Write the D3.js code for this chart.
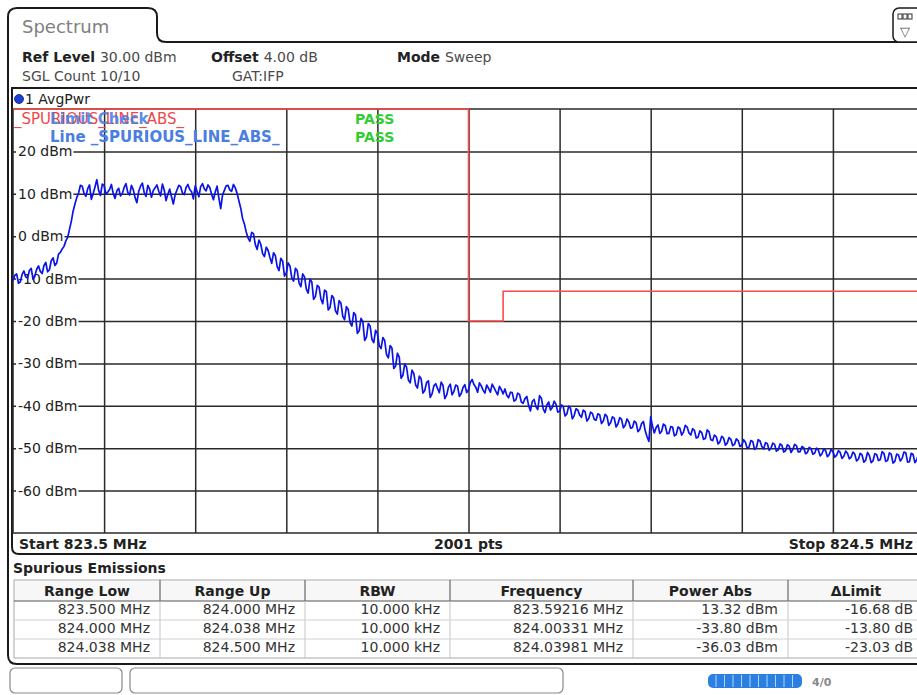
<!DOCTYPE html>
<html>
<head>
<meta charset="utf-8">
<script src="https://cdn.jsdelivr.net/npm/d3@7"></script>
<style>
  html, body { margin: 0; padding: 0; background: #fff; }
  svg { display: block; font-family: "DejaVu Sans", Verdana, sans-serif; }
</style>
</head>
<body>
<svg id="screen" width="917" height="695"></svg>
<script>
// ---- Sweep settings ----
const startFreq = 823.5;          // MHz
const stopFreq = 824.5;           // MHz
const refLevel = 30;              // dBm (top of grid)
const bottomLevel = -70;          // dBm (bottom of grid)

// ---- Grid / tick labels ----
const yTicks = [20, 10, 0, -10, -20, -30, -40, -50, -60];
const yTickLabels = ["20 dBm", "10 dBm", "0 dBm", "-10 dBm", "-20 dBm", "-30 dBm", "-40 dBm", "-50 dBm", "-60 dBm"];
const xGrid = [823.6, 823.7, 823.8, 823.9, 824.0, 824.1, 824.2, 824.3, 824.4];

// ---- AvgPwr trace (one level every 2 kHz from the start frequency) ----
const traceStep = 0.002;          // MHz
const traceLevels = [
  -10.5, -9.2, -8.9, -11.1, -10.8, -9.0, -8.2, -9.6, -9.9, -8.1, -7.6, -10.2, -9.4, -7.8, -7.0, -8.3, -8.8, -6.9, -6.2, -8.4,
  -7.9, -5.8, -5.1, -6.9, -6.3, -4.2, -3.8, -3.0, -2.4, -1.1, -0.3, 1.6, 3.5, 5.9, 7.6, 9.1, 10.2, 12.0, 11.8, 10.1,
  9.4, 11.2, 12.1, 8.7, 10.0, 11.6, 13.32, 10.8, 9.6, 12.3, 11.9, 9.9, 10.4, 11.0, 12.2, 10.1, 8.9, 10.7, 11.3, 9.5,
  10.1, 11.5, 12.4, 10.3, 9.7, 12.0, 11.0, 9.1, 7.9, 10.6, 11.8, 12.5, 10.3, 9.4, 12.0, 11.1, 9.2, 10.8, 11.4, 12.1,
  10.6, 9.5, 12.3, 10.9, 8.4, 9.9, 11.1, 9.3, 7.6, 9.8, 10.9, 12.0, 11.7, 10.2, 9.8, 11.5, 12.2, 11.0, 10.5, 8.8,
  11.9, 10.6, 9.3, 11.7, 12.4, 11.2, 10.7, 12.1, 11.5, 9.9, 8.6, 10.4, 11.8, 9.0, 6.5, 9.7, 10.8, 11.9, 12.0, 10.9,
  10.6, 12.2, 11.4, 10.1, 8.3, 6.6, 4.2, 2.9, 1.0, -0.4, -1.2, 0.9, 0.6, -2.0, -3.1, -0.9, -1.9, -4.1, -4.8, -2.6,
  -3.3, -5.0, -6.4, -3.9, -4.6, -7.2, -8.1, -5.2, -5.9, -9.4, -8.7, -6.3, -7.0, -9.8, -10.6, -7.6, -8.1, -11.0, -11.9, -8.9,
  -9.6, -12.5, -13.4, -10.1, -10.8, -14.9, -14.2, -11.6, -12.0, -14.8, -15.9, -12.7, -13.1, -17.4, -16.8, -14.0, -14.6, -17.6, -18.4, -15.2,
  -15.8, -18.9, -19.7, -16.6, -17.3, -20.4, -21.2, -18.0, -18.6, -22.9, -22.3, -19.4, -20.1, -24.6, -23.8, -20.6, -21.2, -24.3, -25.1, -22.2,
  -22.9, -25.8, -26.5, -23.9, -24.6, -27.9, -28.7, -25.8, -26.4, -31.2, -30.6, -27.6, -28.5, -33.5, -32.8, -30.1, -30.9, -33.9, -34.6, -31.6,
  -32.4, -35.1, -35.8, -33.0, -33.6, -37.0, -36.4, -34.5, -34.1, -38.0, -37.2, -35.3, -34.8, -35.9, -36.9, -34.4, -35.2, -38.3, -37.5, -35.6,
  -34.9, -37.4, -36.6, -35.1, -35.4, -37.8, -37.1, -35.7, -35.0, -36.9, -36.2, -34.5, -33.80, -35.0, -35.6, -36.8, -34.6, -35.3, -36.3, -37.0,
  -35.1, -35.9, -36.8, -34.9, -35.7, -36.6, -37.4, -35.4, -36.2, -37.2, -36.03, -37.5, -38.1, -36.8, -36.9, -38.9, -38.6, -37.0, -37.3, -39.1,
  -39.4, -38.3, -37.8, -39.9, -41.2, -39.0, -38.5, -40.2, -40.9, -37.6, -38.2, -40.7, -41.6, -39.8, -39.1, -41.0, -40.4, -38.9, -39.6, -41.5,
  -41.3, -39.8, -40.2, -42.4, -41.9, -40.1, -40.6, -43.1, -42.3, -40.7, -41.0, -42.2, -42.7, -41.0, -41.4, -43.6, -43.0, -41.5, -41.8, -43.2,
  -43.4, -41.9, -42.1, -44.2, -43.6, -42.0, -42.5, -44.6, -44.0, -42.6, -42.9, -45.0, -44.3, -42.8, -43.2, -45.2, -44.6, -43.1, -43.8, -45.3,
  -45.1, -43.6, -44.0, -46.1, -45.6, -44.2, -43.7, -45.9, -47.3, -48.4, -42.6, -44.8, -46.4, -45.1, -44.5, -46.5, -46.0, -44.3, -44.7, -46.6,
  -46.5, -44.9, -45.0, -47.1, -46.8, -45.0, -45.3, -46.9, -46.2, -44.6, -45.0, -46.4, -46.9, -45.4, -45.8, -47.6, -47.4, -45.9, -46.3, -47.9,
  -47.7, -45.7, -46.1, -48.0, -48.2, -46.9, -47.3, -49.0, -48.5, -47.2, -47.6, -49.3, -48.8, -47.5, -47.9, -49.4, -49.1, -47.8, -48.2, -49.6,
  -49.3, -48.0, -48.6, -50.1, -49.7, -48.2, -48.4, -50.3, -49.9, -48.0, -48.3, -49.6, -50.2, -48.7, -48.9, -50.5, -50.0, -48.8, -49.1, -50.7,
  -50.4, -49.0, -49.3, -50.9, -50.6, -49.2, -49.5, -51.0, -50.3, -49.1, -49.4, -50.9, -50.8, -49.6, -49.9, -51.3, -51.0, -49.8, -50.1, -51.4,
  -51.2, -50.0, -50.4, -51.8, -51.3, -50.2, -50.6, -52.0, -51.5, -50.3, -50.8, -52.1, -51.7, -50.6, -51.0, -52.4, -51.9, -50.7, -51.2, -52.5,
  -52.1, -50.9, -51.4, -53.0, -52.6, -51.2, -51.6, -53.3, -52.8, -51.0, -51.7, -53.4, -53.0, -51.3, -51.5, -52.9, -52.7, -50.8, -51.2, -53.1,
  -52.9, -51.1, -51.4, -53.5, -53.1, -51.4, -51.6, -53.0, -52.4, -50.9, -51.1, -53.3, -53.2, -51.2, -51.5, -53.4, -52.8, -51.3, -51.9, -53.0, -52.5
];

// ---- Limit line _SPURIOUS_LINE_ABS_ ----
const limitFreqs = [823.5, 824.0, 824.0, 824.038, 824.038, 824.5];
const limitLevels = [30, 30, -20, -20, -13, -13];

// ---- Spurious emissions result table ----
const tableHeaders = ["Range Low", "Range Up", "RBW", "Frequency", "Power Abs", "\u0394Limit"];
const rangeLow = ["823.500 MHz", "824.000 MHz", "824.038 MHz"];
const rangeUp = ["824.000 MHz", "824.038 MHz", "824.500 MHz"];
const rbw = ["10.000 kHz", "10.000 kHz", "10.000 kHz"];
const peakFreq = ["823.59216 MHz", "824.00331 MHz", "824.03981 MHz"];
const powerAbs = ["13.32 dBm", "-33.80 dBm", "-36.03 dBm"];
const deltaLimit = ["-16.68 dB", "-13.80 dB", "-23.03 dB"];

// ------------------------------------------------------------------
const svg = d3.select("#screen");
const W = 917, H = 695;
svg.append("rect").attr("width", W).attr("height", H).attr("fill", "#fff");

const plot = { left: 13, right: 924, top: 109, bottom: 533 };
const x = d3.scaleLinear().domain([startFreq, stopFreq]).range([plot.left, plot.right]);
const y = d3.scaleLinear().domain([refLevel, bottomLevel]).range([plot.top, plot.bottom]);

// ---- Outer window with "Spectrum" tab ----
svg.append("path")
  .attr("d", "M917,42 L166,42 Q157,42 157,33 L157,17 Q157,8 148,8 L17,8 Q8,8 8,17 L8,655 Q8,664 17,664 L917,664")
  .attr("fill", "none").attr("stroke", "#1a1a1a").attr("stroke-width", 2);
svg.append("text").attr("x", 22).attr("y", 33).attr("font-size", 18).attr("fill", "#808080").text("Spectrum");

// top-right menu icon
svg.append("rect").attr("x", 893).attr("y", 8).attr("width", 32).attr("height", 34).attr("rx", 6)
  .attr("fill", "#fff").attr("stroke", "#1a1a1a").attr("stroke-width", 1.5);
[898, 903, 908].forEach(px => svg.append("rect").attr("x", px).attr("y", 14).attr("width", 4).attr("height", 5)
  .attr("fill", "none").attr("stroke", "#333").attr("stroke-width", 1));
svg.append("text").attr("x", 905).attr("y", 36).attr("text-anchor", "middle").attr("font-size", 13).attr("fill", "#555").text("\u25BD");

// ---- Settings header ----
function labelValue(xp, yp, label, value) {
  const t = svg.append("text").attr("x", xp).attr("y", yp).attr("font-size", 14);
  if (label) t.append("tspan").attr("font-weight", "bold").attr("fill", "#222").text(label + " ");
  t.append("tspan").attr("fill", "#4a4a4a").text(value);
}
labelValue(22, 62, "Ref Level", "30.00 dBm");
labelValue(211, 62, "Offset", "4.00 dB");
labelValue(397, 62, "Mode", "Sweep");
labelValue(22, 81, null, "SGL Count 10/10");
labelValue(232, 81, null, "GAT:IFP");

// ---- Diagram frame ----
svg.append("path")
  .attr("d", "M917,88 L12,88 L12,547 Q12,554 19,554 L917,554")
  .attr("fill", "none").attr("stroke", "#1a1a1a").attr("stroke-width", 2);
svg.append("circle").attr("cx", 19).attr("cy", 99).attr("r", 4.5).attr("fill", "#1f3fd0").attr("stroke", "#0a1a80").attr("stroke-width", 0.8);
svg.append("text").attr("x", 25).attr("y", 104).attr("font-size", 14).attr("fill", "#222").text("1 AvgPwr");

// ---- Grid via axes ----
const gridG = svg.append("g");
gridG.append("g")
  .attr("transform", `translate(0,${plot.bottom})`)
  .call(d3.axisBottom(x).tickValues(xGrid).tickSize(-(plot.bottom - plot.top)).tickFormat(""))
  .call(g => g.select(".domain").remove())
  .call(g => g.selectAll(".tick line").attr("stroke", "#2a2a2a").attr("stroke-width", 1.5));
gridG.append("g")
  .attr("transform", `translate(${plot.left},0)`)
  .call(d3.axisRight(y).tickValues(yTicks).tickSize(plot.right - plot.left).tickFormat(""))
  .call(g => g.select(".domain").remove())
  .call(g => g.selectAll(".tick line").attr("stroke", "#2a2a2a").attr("stroke-width", 1.5));
// plot border
svg.append("rect").attr("x", plot.left).attr("y", plot.top)
  .attr("width", plot.right - plot.left).attr("height", plot.bottom - plot.top)
  .attr("fill", "none").attr("stroke", "#2a2a2a").attr("stroke-width", 1.5);

// level labels sit on a white patch over the grid line
const labelG = svg.append("g");
yTicks.forEach((v, i) => {
  const g = labelG.append("g");
  const t = g.append("text").attr("x", 18).attr("y", y(v) + 5).attr("font-size", 14).attr("fill", "#222").text(yTickLabels[i]);
  const bb = t.node().getBBox();
  g.insert("rect", "text").attr("x", bb.x - 2).attr("y", y(v) - 3).attr("width", bb.width + 3).attr("height", 6).attr("fill", "#fff");
});

// ---- Limit line ----
const limitPts = limitFreqs.map((f, i) => [f, limitLevels[i]]);
svg.append("path")
  .attr("d", d3.line().x(d => x(d[0])).y(d => y(d[1]))(limitPts))
  .attr("fill", "none").attr("stroke", "#ff4a4a").attr("stroke-width", 1.6);

// ---- Trace ----
const tracePts = traceLevels.map((v, i) => [startFreq + i * traceStep, v]);
svg.append("path")
  .attr("d", d3.line().x(d => x(d[0])).y(d => y(d[1]))(tracePts))
  .attr("fill", "none").attr("stroke", "#0a14e8").attr("stroke-width", 1.7).attr("stroke-linejoin", "round");

// ---- Limit check annotations ----
svg.append("text").attr("x", 14).attr("y", 124).attr("font-size", 15).attr("fill", "#f04848").text("_SPURIOUS_LINE_ABS_");
svg.append("text").attr("x", 50).attr("y", 124).attr("font-size", 15).attr("font-weight", "bold").attr("fill", "#4a7ee0").attr("fill-opacity", 0.9).text("Limit Check");
svg.append("text").attr("x", 50).attr("y", 142).attr("font-size", 15).attr("font-weight", "bold").attr("fill", "#4a7ee0").text("Line _SPURIOUS_LINE_ABS_");
svg.append("text").attr("x", 355).attr("y", 124).attr("font-size", 14).attr("font-weight", "bold").attr("fill", "#33cc33").text("PASS");
svg.append("text").attr("x", 355).attr("y", 142).attr("font-size", 14).attr("font-weight", "bold").attr("fill", "#33cc33").text("PASS");

// ---- Frequency footer ----
svg.append("text").attr("x", 19).attr("y", 549).attr("font-size", 14).attr("font-weight", "bold").attr("fill", "#222").text(`Start ${startFreq} MHz`);
svg.append("text").attr("x", (plot.left + plot.right) / 2).attr("y", 549).attr("text-anchor", "middle").attr("font-size", 14).attr("font-weight", "bold").attr("fill", "#222").text(`${2001} pts`);
svg.append("text").attr("x", 913).attr("y", 549).attr("text-anchor", "end").attr("font-size", 14).attr("font-weight", "bold").attr("fill", "#222").text(`Stop ${stopFreq} MHz`);

// ---- Spurious emissions table ----
svg.append("text").attr("x", 13).attr("y", 573).attr("font-size", 14).attr("font-weight", "bold").attr("fill", "#222").text("Spurious Emissions");
const colEdges = [14, 160, 305, 450, 633, 788, 924];
const tTop = 580, tHead = 601, rowH = 19;
const rows = rangeLow.map((_, i) => [rangeLow[i], rangeUp[i], rbw[i], peakFreq[i], powerAbs[i], deltaLimit[i]]);
const tBottom = tHead + rowH * rows.length;
svg.append("rect").attr("x", colEdges[0]).attr("y", tTop).attr("width", colEdges[6] - colEdges[0]).attr("height", tBottom - tTop)
  .attr("fill", "#fff").attr("stroke", "#a8a8a8").attr("stroke-width", 1);
svg.append("rect").attr("x", colEdges[0] + 1).attr("y", tTop + 1).attr("width", colEdges[6] - colEdges[0] - 2).attr("height", tHead - tTop - 1)
  .attr("fill", "#f7f7f7");
svg.append("line").attr("x1", colEdges[0]).attr("x2", colEdges[6]).attr("y1", tHead).attr("y2", tHead).attr("stroke", "#555").attr("stroke-width", 1.2);
colEdges.slice(1, 6).forEach(cx => {
  svg.append("line").attr("x1", cx).attr("x2", cx).attr("y1", tTop).attr("y2", tHead).attr("stroke", "#666").attr("stroke-width", 1.2);
  svg.append("line").attr("x1", cx).attr("x2", cx).attr("y1", tHead).attr("y2", tBottom).attr("stroke", "#c4c4c4").attr("stroke-width", 1);
});
rows.forEach((_, r) => {
  if (r > 0) svg.append("line").attr("x1", colEdges[0]).attr("x2", colEdges[6]).attr("y1", tHead + r * rowH).attr("y2", tHead + r * rowH).attr("stroke", "#d0d0d0").attr("stroke-width", 1);
});
tableHeaders.forEach((h, c) => {
  svg.append("text").attr("x", (colEdges[c] + colEdges[c + 1]) / 2).attr("y", 596).attr("text-anchor", "middle")
    .attr("font-size", 14).attr("font-weight", "bold").attr("fill", "#222").text(h);
});
rows.forEach((row, r) => {
  row.forEach((cell, c) => {
    svg.append("text").attr("x", colEdges[c + 1] - (c === 5 ? 11 : 10)).attr("y", tHead + r * rowH + 13)
      .attr("text-anchor", "end").attr("font-size", 14).attr("fill", "#333").text(cell);
  });
});

// ---- Status bar ----
svg.append("rect").attr("x", 10).attr("y", 668).attr("width", 112).attr("height", 25).attr("rx", 5)
  .attr("fill", "#fff").attr("stroke", "#8a8a8a").attr("stroke-width", 1.2);
svg.append("rect").attr("x", 130).attr("y", 668).attr("width", 433).attr("height", 25).attr("rx", 5)
  .attr("fill", "#fff").attr("stroke", "#8a8a8a").attr("stroke-width", 1.2);
svg.append("rect").attr("x", 708).attr("y", 674).attr("width", 94).attr("height", 14).attr("rx", 5).attr("fill", "#2b7fe0");
d3.range(10).forEach(k => svg.append("line").attr("x1", 716 + k * 8.5).attr("x2", 716 + k * 8.5).attr("y1", 675).attr("y2", 687)
  .attr("stroke", "#d8e8ff").attr("stroke-width", 0.8));
svg.append("text").attr("x", 812).attr("y", 686).attr("font-size", 11).attr("font-weight", "bold").attr("fill", "#888").text("4/0");
</script>
</body>
</html>
